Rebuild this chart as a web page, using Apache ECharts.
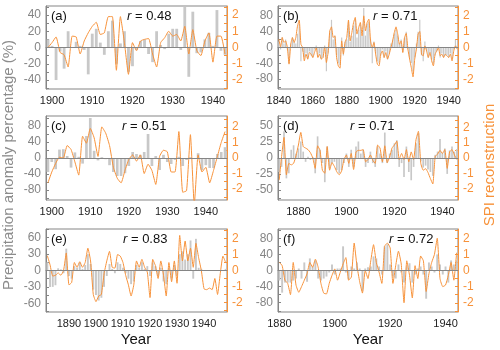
<!DOCTYPE html>
<html>
<head>
<meta charset="utf-8">
<script src="https://cdn.jsdelivr.net/npm/echarts@6/dist/echarts.min.js"></script>
<style>
html, body { margin: 0; padding: 0; background: #fff; }
#main { width: 500px; height: 350px; }
</style>
</head>
<body>
<div id="main"></div>
<script>
// precipitation anomaly (%) bars and SPI reconstruction lines, one pair per panel
var precipA = [10, 2, -40, -5, -26, 20, 0, 7, 2, -3, -33, 17, 23, 6, -9, 20, 33, -20, 5, 20,
  -30, -23, -3, 8, 10, -8, -18, 20, 3, -2, 17, 23, 23, -3, 50, -36, 44, -7, -6, 10,
  18, 2, 46, -4, -9];
var spiA = [0.0, 0.3, 0.65, -0.3, -0.45, -1.2, 0.7, 0.65, -0.4, 0.4, 0.9, 1.3, 1.55, 0.8, 0.9, 1.9, 1.9, -1.4, 1.9, 0.3,
  -1.65, 0.3, -0.2, 0.4, 0.5, 0.55, -0.4, -1.2, 0.3, 0.6, 1.0, 0.7, 0.8, 0.4, 1.3, -0.4, 1.1, -0.2, -0.5, 0.4,
  0.9, -0.9, 0.7, 0.7, -0.4];

var precipB = [15, -5, 25, 10, 20, -5, -40, 10, 25, 15,
  10, 35, 60, -35, -10, -25, -15, -30, -10, -20,
  -25, -5, 5, -20, -15, -30, -25, 5, -60, -15,
  40, 70, 20, 30, -20, -40, -45, 25, -20, 15,
  20, 65, 15, 30, 55, 70, 25, 45, 60, 30,
  100, 30, 60, 65, 20, -40, 15, -15, -35, -40,
  -20, -5, -25, -10, -30, -15, 10, 20, 35, 45,
  30, 10, 20, -10, 25, 40, -5, -30, -40, -60,
  -25, 10, 40, 70, -20, -35, 15, -10, -25, -15,
  -30, -40, -20, -10, 5, -25, -15, -25, -20, -20,
  -25, -15, -30, -5, 20, 5];
var spiB = [0.52, 0.04, 0.62, 0.31, 0.41, 0, -1.03, 0.2, 0.62, 0.31,
  0.62, 1.34, 1.7, 0.2, 0, -0.83, -0.41, -0.72, -0.31, -0.41,
  -0.62, -0.31, 0, -0.62, -0.41, -0.72, -0.62, 0.04, -0.93, -0.31,
  1.03, 1.28, 0.62, 0.72, -0.62, -1.14, -1.28, 0.41, -0.41, 0.31,
  0.62, 1.7, 0.41, 0.93, 1.55, 1.86, 0.83, 1.24, 1.55, 0.72,
  1.96, 1.03, 1.55, 1.76, 0.41, 0, 0.31, -0.41, -1.03, -1.14,
  -0.41, -0.21, -0.62, -0.31, -0.72, -0.41, 0, 0.41, 0.93, 1.28,
  0.83, 0.2, 0.41, -0.31, 0.62, 0.87, -0.1, -0.72, -1.24, -1.82,
  -0.72, -0.1, 0.83, 0.99, -0.41, -0.52, 0.1, -0.21, -0.62, -0.31,
  -0.83, -1.14, -0.41, -0.21, 0, -0.52, -0.41, -0.62, -0.41, -0.52,
  -0.62, -0.41, -0.83, -0.21, 0.1, -0.1];

var precipC = [-35, -10, -28, 21, 22, 5, -24, 14, 3, -14, 55, 100, 18, -6, 2, -3, -18, -35, -45, -45,
  -38, -20, 15, 10, 8, 15, 60, -20, 5, -30, 8, -10, -15, -5, 3, -20, -5, 2, 0, 12,
  -30, -18, -25, -25, 10, 15, 27];
var spiC = [-1.6, -0.9, -0.35, 0.05, 0, 0.8, 0.55, -0.25, -1.1, 1.4, 0.95, 1.9, 1.3, 0.1, 2.0, 1.6, 0.8, -0.6, -1.3, -1.6,
  -0.8, -0.1, 0.2, -0.2, 0.2, -1.0, -0.4, -0.8, -1.7, 0.1, 0.5, 0.4, -0.9, -0.9, 1.7, -2.2, -2.1, 1.5, -3.0, 0.2,
  -0.9, -0.6, -1.6, -0.8, 0.1, 1.0, 1.7];

var precipD = [-22, -14, 42, -32, -24, 13, 20, 7, 15, 26, 10, -6, 2, -3, 1, -24, 34, 13, -8, -38,
  18, -16, -8, -6, -19, -24, -19, -8, 7, -14, 13, -14, 18, 26, 7, 13, -14, -8, 10, -8,
  -14, 18, 7, -8, 40, -8, 7, 13, 23, 28, -14, -8, -30, 18, -22, -35, -14, 23, 39, -5,
  -15, -12, -18, -22, -28, 5, 10, 30, 8, 15, -25, 12, 18, 10, 14];
var spiD = [-1.45, 0.1, 1.35, -1.1, -0.35, -0.45, -0.35, 0.15, 0.85, 1.68, 0.75, 0.65, 0.55, 0.35, 0, -0.68, 0.8, 0.5, -0.8, -1.0,
  0.75, -0.8, -0.3, -0.55, -0.9, -1.1, -0.85, -0.1, 0.2, -0.35, 0.3, -0.75, 0.4, 0.5, 0.5, 0.55, -0.25, -0.1, 0.2, -0.15,
  -0.35, 0.85, 0.65, -0.25, 0.8, -0.3, 0.05, 0.65, 0.85, 1.1, -0.1, 0.3, -0.1, 0.55, -0.25, 0.4, -0.1, 1.2, 1.75, -0.35,
  -0.8, -0.7, -0.95, -1.35, -1.7, 0.1, 0.25, 0.5, 0.3, 0.55, -0.68, 0.4, 0.55, 0.2, -0.1];

var precipE = [15, -30, -30, -27, 4, 2, -5, 40, -10, -15, 8, 5, 15, 3, 10, 30, 12, -35, -45, -55,
  -50, -30, -10, 12, 3, -5, 15, 12, 5, -5, -15, -25, -20, 10, 5, 15, 3, 8, -10, 15,
  8, -10, 5, -20, -25, 5, -15, 10, -10, 30, 35, 20, 30, 55, -15, 58, 5, 3, null, null,
  null, null, null, null, null, null, 3];
var spiE = [0.93, 0.35, -0.35, -0.3, -0.15, -0.3, 0, 1.1, -0.9, -0.75, 0.5, 0.2, 0.55, 0.2, 0.5, 1.4, 0.6, -1.5, -1.95, -1.6,
  -1.5, -0.2, 0.6, 1.2, 0.2, 0.15, 1.0, 0.9, 0.5, -0.3, -0.9, -1.6, -0.9, 0.6, 0.2, 0.7, 0.2, -0.1, -1.7, 0.7,
  0.3, -0.5, 0.6, -0.3, -1.6, 0.5, -0.7, 0.6, -0.8, 2.2, 0.6, 1.85, 0.6, 1.4, 0.2, 1.7, 0.8, 0, -1.15, -1.2,
  -1.1, -1.2, -0.5, -1.5, -0.2, 0.9, 0.5];

var precipF = [-25, -55, -30, -30, -30, -25, -20, 5, -20, 20, -28, 30, 10, 25, -20, -25, -20, -15, -5, 15,
  -10, 5, 5, 60, -5, -22, 10, 5, 20, 5, -50, 5, 8, 10, 35, 30, 10, -10, 60, 65,
  15, -15, -20, 15, -5, -30, 10, 18, -30, -10, 5, 10, -10, -70, 20, 10, -5, 40, 15, -10,
  10, -30, 25, 15, 25];
var spiF = [0.5, 0.3, -0.6, -0.8, -1.5, 0.5, -0.9, -1.35, -1.0, -0.6, -0.2, 0.5, 0.2, 0.7, 0.2, -0.8, -1.4, -1.45, -0.8, -0.3,
  0.1, -0.6, -0.1, 0.4, 0.8, -0.6, -0.4, 1.7, 0.3, -0.7, -1.4, 0, -0.5, 0.6, 1.6, 0.5, -0.1, -0.8, 1.5, 1.7,
  1.4, -0.8, 0.3, 1.2, 0.4, -2.0, 0.6, -0.3, -1.7, 0.3, -0.5, 0.9, 0.6, -1.3, -0.2, 0.5, 1.0, 2.0, -0.5, -1.0,
  -0.9, -0.3, 0.5, -0.6, 1.1];

// tick labels
var pLabelsA = [-40, -20, 0, 20, 40];
var pLabelsB = [-80, -40, 0, 40, 80];
var pLabelsC = [-80, -40, 0, 40, 80];
var pLabelsD = [-50, -25, 0, 25, 50];
var pLabelsE = [-60, -30, 0, 30, 60];
var pLabelsF = [-80, -40, 0, 40, 80];
var spiLabels = [-2, -1, 0, 1, 2];

function yearList(from, to) {
  var out = [];
  for (var y = from; y <= to; y++) out.push(String(y));
  return out;
}

var FONT = '"Liberation Sans", Arial, sans-serif';
var GRAY = '#858585';
var ORANGE = '#f7923a';
var BAR = '#c8c8c8';

var panels = [
  {tag: '(a)', r: '0.48', years: yearList(1899, 1943), precip: precipA, spi: spiA, pLabels: pLabelsA,
    pMax: 51, sMax: 2.55, labelStep: 10, tickStep: 2, box: [46, 6, 181, 83], rX: 81},
  {tag: '(b)', r: '0.71', years: yearList(1840, 1945), precip: precipB, spi: spiB, pLabels: pLabelsB,
    pMax: 105, sMax: 2.57, labelStep: 20, tickStep: 1, box: [278, 6, 180, 83], rX: 95},
  {tag: '(c)', r: '0.51', years: yearList(1899, 1945), precip: precipC, spi: spiC, pLabels: pLabelsC,
    pMax: 105, sMax: 2.7, labelStep: 10, tickStep: 2, box: [46, 116, 181, 84], rX: 76},
  {tag: '(d)', r: '0.71', years: yearList(1872, 1946), precip: precipD, spi: spiD, pLabels: pLabelsD,
    pMax: 66, sMax: 2.75, labelStep: 20, tickStep: 2, box: [278, 116, 180, 84], rX: 72},
  {tag: '(e)', r: '0.83', years: yearList(1882, 1948), precip: precipE, spi: spiE, pLabels: pLabelsE,
    pMax: 76, sMax: 2.6, labelStep: 10, tickStep: 2, box: [46, 229, 181, 83], rX: 77},
  {tag: '(f)', r: '0.72', years: yearList(1880, 1944), precip: precipF, spi: spiF, pLabels: pLabelsF,
    pMax: 103, sMax: 2.57, labelStep: 20, tickStep: 2, box: [278, 229, 180, 83], rX: 111}
];

// minor ticks at half the label step
function tickValues(step, max) {
  var out = [];
  var n = Math.floor(max / step + 1e-9);
  for (var i = -n; i <= n; i++) out.push(i * step);
  return out;
}

var grids = [], xAxes = [], yAxes = [], series = [], graphics = [];

panels.forEach(function (p, k) {
  grids.push({
    left: p.box[0], top: p.box[1], width: p.box[2], height: p.box[3],
    show: true, borderColor: GRAY, borderWidth: 1, backgroundColor: 'transparent'
  });
  xAxes.push({
    type: 'category', gridIndex: k, data: p.years, boundaryGap: true,
    axisLine: {lineStyle: {color: GRAY}},
    axisTick: {
      inside: true, length: 3, alignWithLabel: true,
      interval: function (i, v) { return (+v) % p.tickStep === 0; },
      lineStyle: {color: GRAY}
    },
    axisLabel: {
      interval: function (i, v) { return (+v) % p.labelStep === 0; },
      color: '#222', fontSize: 11, fontFamily: FONT, margin: 6
    },
    splitLine: {show: false}
  });
  yAxes.push({
    type: 'value', gridIndex: k, position: 'left', min: -p.pMax, max: p.pMax,
    axisLine: {show: true, lineStyle: {color: GRAY}},
    axisTick: {show: true, inside: true, length: 3, customValues: tickValues((p.pLabels[1] - p.pLabels[0]) / 2, p.pMax), lineStyle: {color: GRAY}},
    axisLabel: {customValues: p.pLabels, color: GRAY, fontSize: 12, fontFamily: FONT, margin: 5},
    splitLine: {show: false}
  });
  yAxes.push({
    type: 'value', gridIndex: k, position: 'right', min: -p.sMax, max: p.sMax,
    axisLine: {show: true, lineStyle: {color: ORANGE}},
    axisTick: {show: true, inside: true, length: 3, customValues: tickValues(0.5, p.sMax), lineStyle: {color: ORANGE}},
    axisLabel: {customValues: spiLabels, color: ORANGE, fontSize: 12, fontFamily: FONT, margin: 5},
    splitLine: {show: false}
  });
  series.push({
    type: 'bar', xAxisIndex: k, yAxisIndex: 2 * k, data: p.precip,
    itemStyle: {color: BAR}, barCategoryGap: '30%',
    markLine: {
      silent: true, symbol: 'none', label: {show: false},
      lineStyle: {color: GRAY, type: 'solid', width: 1},
      data: [{yAxis: 0}]
    }
  });
  series.push({
    type: 'line', xAxisIndex: k, yAxisIndex: 2 * k + 1, data: p.spi,
    showSymbol: false, smooth: 0.15,
    lineStyle: {color: ORANGE, width: 1}, itemStyle: {color: ORANGE}, z: 3
  });
  graphics.push({
    type: 'text', x: p.box[0] + 5, y: p.box[1] + 10,
    style: {text: p.tag, fill: '#111', fontSize: 13, fontFamily: FONT,
      align: 'left', textAlign: 'left', verticalAlign: 'middle', textVerticalAlign: 'middle'}
  });
  graphics.push({
    type: 'text', x: p.box[0] + p.rX, y: p.box[1] + 10,
    style: {text: '{i|r} = ' + p.r, fill: '#111', fontSize: 13, fontFamily: FONT,
      align: 'left', textAlign: 'left', verticalAlign: 'middle', textVerticalAlign: 'middle',
      rich: {i: {fontStyle: 'italic', fontSize: 13, fontFamily: FONT, fill: '#111'}}}
  });
});

graphics.push({
  type: 'text', x: 9, y: 165, rotation: Math.PI / 2,
  style: {text: 'Precipitation anomaly percentage (%)', fill: '#8c8c8c', fontSize: 15, fontFamily: FONT,
    align: 'center', textAlign: 'center', verticalAlign: 'middle', textVerticalAlign: 'middle'}
});
graphics.push({
  type: 'text', x: 490, y: 165, rotation: Math.PI / 2,
  style: {text: 'SPI reconstruction', fill: ORANGE, fontSize: 15, fontFamily: FONT,
    align: 'center', textAlign: 'center', verticalAlign: 'middle', textVerticalAlign: 'middle'}
});
graphics.push({
  type: 'text', x: 136, y: 340,
  style: {text: 'Year', fill: '#111', fontSize: 15, fontFamily: FONT,
    align: 'center', textAlign: 'center', verticalAlign: 'middle', textVerticalAlign: 'middle'}
});
graphics.push({
  type: 'text', x: 368, y: 340,
  style: {text: 'Year', fill: '#111', fontSize: 15, fontFamily: FONT,
    align: 'center', textAlign: 'center', verticalAlign: 'middle', textVerticalAlign: 'middle'}
});

var myChart = echarts.init(document.getElementById('main'));
myChart.setOption({
  animation: false,
  grid: grids,
  xAxis: xAxes,
  yAxis: yAxes,
  series: series,
  graphic: graphics
});
</script>
</body>
</html>
